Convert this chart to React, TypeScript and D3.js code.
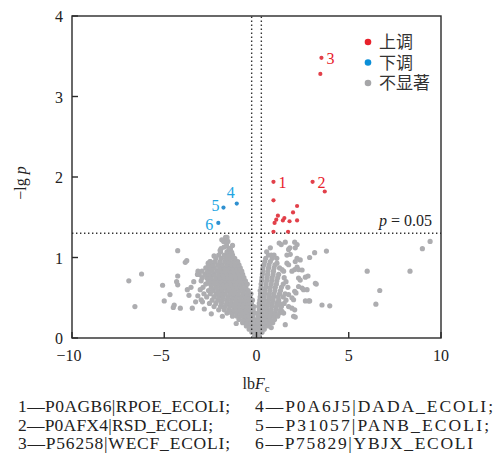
import React from "react";
import * as d3 from "d3";

type P = [number, number];

const xTicks = [-10, -5, 0, 5, 10];
const yTicks = [0, 1, 2, 3, 4];
const fcThreshold = 0.263;
const pThreshold = 1.301;

const upPoints: P[] = [
  [0.92, 1.94], [3.04, 1.94], [3.52, 3.48], [3.46, 3.28], [3.7, 1.82], [0.92, 1.71],
  [2.2, 1.64], [1.98, 1.56], [1.16, 1.52], [1.51, 1.49], [1.43, 1.46], [1.07, 1.47],
  [0.98, 1.43], [1.79, 1.45], [2.2, 1.46], [0.92, 1.32], [1.71, 1.32],
];
const downPoints: P[] = [[-1.07, 1.67], [-1.79, 1.62], [-2.07, 1.43]];

const upLabels: { id: string; x: number; y: number }[] = [
  { id: "1", x: 0.92, y: 1.94 },
  { id: "2", x: 3.04, y: 1.94 },
  { id: "3", x: 3.52, y: 3.48 },
];
const downLabels: { id: string; x: number; y: number; dx: number; dy: number }[] = [
  { id: "4", x: -1.07, y: 1.67, dx: -10, dy: -6 },
  { id: "5", x: -1.79, y: 1.62, dx: -12, dy: 3 },
  { id: "6", x: -2.07, y: 1.43, dx: -13, dy: 7 },
];

const leftRows: [number, number[]][] = [
  [0.03, [-0.1, 0.0]],
  [0.07, [-0.25, -0.1, 0.02]],
  [0.11, [-0.4, -0.22, -0.08]],
  [0.15, [-0.55, -0.35, -0.18, -0.05]],
  [0.19, [-0.75, -0.5, -0.3, -0.12]],
  [0.23, [-0.95, -0.7, -0.48, -0.28, -0.1]],
  [0.27, [-1.3, -1.05, -0.82, -0.6, -0.4, -0.2]],
  [0.31, [-1.6, -1.35, -1.1, -0.88, -0.66, -0.45, -0.25, -0.08]],
  [0.35, [-2.05, -1.75, -1.5, -1.25, -1.02, -0.8, -0.58, -0.38, -0.18]],
  [0.39, [-2.3, -1.95, -1.7, -1.45, -1.2, -0.98, -0.75, -0.52, -0.32, -0.14]],
  [0.43, [-2.55, -2.2, -1.9, -1.62, -1.38, -1.15, -0.92, -0.7, -0.48, -0.28]],
  [0.47, [-2.4, -2.1, -1.85, -1.6, -1.35, -1.1, -0.88, -0.65, -0.42, -0.22]],
  [0.51, [-2.7, -2.3, -2.05, -1.8, -1.55, -1.3, -1.08, -0.85, -0.6, -0.38]],
  [0.55, [-2.85, -2.5, -2.2, -1.95, -1.7, -1.45, -1.22, -1.0, -0.75, -0.5, -0.3]],
  [0.59, [-2.6, -2.35, -2.1, -1.85, -1.6, -1.38, -1.15, -0.92, -0.68, -0.45]],
  [0.63, [-2.9, -2.45, -2.2, -1.95, -1.72, -1.5, -1.28, -1.05, -0.82, -0.58]],
  [0.67, [-2.75, -2.5, -2.28, -2.05, -1.82, -1.6, -1.38, -1.15, -0.92, -0.7, -0.5]],
  [0.71, [-3.0, -2.62, -2.38, -2.15, -1.92, -1.7, -1.48, -1.25, -1.02, -0.8, -0.6]],
  [0.75, [-2.95, -2.7, -2.45, -2.2, -1.98, -1.76, -1.55, -1.32, -1.1, -0.88, -0.68]],
  [0.79, [-3.1, -2.8, -2.55, -2.3, -2.05, -1.82, -1.6, -1.38, -1.15, -0.95, -0.75]],
  [0.83, [-2.95, -2.65, -2.4, -2.15, -1.9, -1.68, -1.45, -1.22, -1.0, -0.8]],
  [0.87, [-2.75, -2.5, -2.28, -2.0, -1.75, -1.52, -1.3, -1.08, -0.88]],
  [0.91, [-2.6, -2.35, -2.1, -1.85, -1.6, -1.38, -1.15, -0.95]],
  [0.95, [-2.5, -2.25, -1.98, -1.72, -1.5, -1.25, -1.02]],
  [0.99, [-2.2, -1.9, -1.65, -1.42, -1.18]],
  [1.03, [-2.05, -1.75, -1.52, -1.3]],
  [1.07, [-1.95, -1.6, -1.38]],
  [1.11, [-1.92, -1.5, -1.42]],
  [1.15, [-1.62, -1.3]],
  [1.2, [-1.78, -1.55]],
  [1.25, [-1.68, -1.6]],
];

const rightRows: [number, number[]][] = [
  [0.03, [0.08, 0.15]],
  [0.07, [0.05, 0.2, 0.3]],
  [0.11, [0.08, 0.25, 0.42]],
  [0.15, [0.1, 0.28, 0.48, 0.65]],
  [0.19, [0.08, 0.25, 0.45, 0.68, 0.88]],
  [0.23, [0.12, 0.3, 0.52, 0.75, 0.98]],
  [0.27, [0.1, 0.3, 0.5, 0.72, 0.95, 1.15]],
  [0.31, [0.12, 0.32, 0.55, 0.78, 1.0, 1.25]],
  [0.35, [0.15, 0.35, 0.58, 0.8, 1.05, 1.3]],
  [0.39, [0.12, 0.35, 0.58, 0.82, 1.08, 1.35]],
  [0.43, [0.15, 0.38, 0.62, 0.85, 1.1, 1.5]],
  [0.47, [0.18, 0.4, 0.65, 0.9, 1.2, 1.6]],
  [0.51, [0.2, 0.42, 0.68, 0.92, 1.18, 1.45]],
  [0.55, [0.22, 0.45, 0.7, 0.95, 1.25, 1.55]],
  [0.59, [0.2, 0.45, 0.72, 1.0, 1.3]],
  [0.63, [0.25, 0.5, 0.75, 1.02, 1.35, 1.7]],
  [0.67, [0.25, 0.52, 0.8, 1.08, 1.45]],
  [0.71, [0.28, 0.55, 0.82, 1.1]],
  [0.75, [0.3, 0.58, 0.85, 1.15, 1.5]],
  [0.79, [0.32, 0.6, 0.9, 1.2]],
  [0.83, [0.35, 0.62, 0.92]],
  [0.87, [0.35, 0.65, 0.95, 1.25]],
  [0.91, [0.4, 0.68, 1.0]],
  [0.95, [0.45, 0.75]],
  [0.99, [0.5, 0.85, 1.1]],
  [1.03, [0.65, 0.8, 0.95]],
  [1.07, [0.55]],
  [1.12, [0.75]],
];

const grayScatter: P[] = [
  [1.23, 1.18], [1.56, 1.19], [1.34, 1.16], [2.07, 1.19], [2.2, 1.16], [2.1, 1.12],
  [1.74, 1.1], [1.81, 1.12], [3.15, 1.06], [3.79, 1.08], [1.65, 1.03], [1.83, 1.04],
  [1.11, 0.93], [1.65, 0.93], [1.74, 0.91], [2.1, 0.95], [2.2, 0.99], [1.38, 0.85],
  [1.47, 0.83], [1.92, 0.83], [2.07, 0.85], [2.2, 0.88], [2.28, 0.85], [2.28, 0.745],
  [2.37, 0.72], [2.65, 0.755], [2.79, 0.77], [3.19, 0.68], [2.47, 0.62], [2.55, 0.6],
  [2.28, 0.64], [2.07, 0.58], [2.14, 0.56], [1.74, 0.54], [1.92, 0.5], [2.01, 0.475],
  [2.65, 0.46], [2.83, 0.46], [3.55, 0.41], [3.97, 0.4], [1.74, 0.39], [1.92, 0.37],
  [2.07, 0.35], [2.01, 0.27], [2.1, 0.26], [1.38, 0.33], [1.47, 0.31], [1.56, 0.165],
  [2.47, 0.845], [2.37, 0.97], [2.88, 1.0], [3.24, 0.67], [2.74, 0.6], [2.88, 0.46],
  [9.41, 1.2], [8.99, 1.11], [6.0, 0.83], [8.32, 0.83], [6.68, 0.59], [6.47, 0.42],
  [-4.27, 1.085], [-3.86, 0.94], [-3.78, 0.96], [-6.23, 0.795], [-6.92, 0.71], [-6.59, 0.39],
  [-5.09, 0.655], [-5.0, 0.46], [-4.69, 0.54], [-4.51, 0.38], [-4.46, 0.41], [-4.27, 0.77],
  [-4.33, 0.7], [-4.27, 0.66], [-4.13, 0.37], [-3.75, 0.6], [-3.55, 0.63], [-3.66, 0.53],
  [-3.48, 0.37], [-3.18, 0.525], [-3.0, 0.475], [-2.93, 0.45], [-2.83, 0.36], [-3.17, 0.83],
  [-3.2, 0.79], [-3.4, 0.7], [-3.3, 0.45], [-1.88, 1.22], [-1.97, 1.09], [-1.76, 1.13],
  [-2.62, 0.93], [-2.52, 0.95], [-1.43, 1.1], [-1.34, 1.06], [-2.3, 1.02], [-3.05, 0.6],
  [-2.45, 0.3], [-1.85, 0.27], [-1.1, 0.18], [0.8, 0.13], [1.25, 0.43], [1.6, 0.7],
];

const legendItems = [
  { label: "上调", color: "#e8212b" },
  { label: "下调", color: "#0b8fd8" },
  { label: "不显著", color: "#a6a6a8" },
];

const notesLeft = ["1—P0AGB6|RPOE_ECOLI;", "2—P0AFX4|RSD_ECOLI;", "3—P56258|WECF_ECOLI;"];
const notesRight = ["4—P0A6J5|DADA_ECOLI;", "5—P31057|PANB_ECOLI;", "6—P75829|YBJX_ECOLI"];
const notesLeftWidth = [212, 195, 212];
const notesRightWidth = [238, 234, 218];

const W = 496;
const H = 464;
const serif = "'Liberation Serif', 'Times New Roman', serif";
const cjk = "'Noto Sans CJK SC', sans-serif";

export default function App() {
  const x = d3.scaleLinear().domain([-10, 10]).range([72, 441]);
  const y = d3.scaleLinear().domain([0, 4]).range([338, 16]);

  const grayPoints: P[] = [
    ...leftRows.flatMap(([yy, xs]) => xs.map((xx) => [xx, yy] as P)),
    ...rightRows.flatMap(([yy, xs]) => xs.map((xx) => [xx, yy] as P)),
    ...grayScatter,
  ];

  const [x0, x1] = x.range();
  const [yb, yt] = y.range();

  return (
    <svg width={W} height={H} style={{ position: "absolute", left: 0, top: 0, background: "#fff" }}>
      <rect x={0} y={0} width={W} height={H} fill="#fff" />
      <g fill="#adadb0">
        {grayPoints.map((d, i) => (
          <circle key={i} cx={x(d[0])} cy={y(d[1])} r={2.6} />
        ))}
      </g>
      <g stroke="#333" strokeWidth={1.4} strokeDasharray="1.4 2.6" fill="none">
        <line x1={x(-fcThreshold)} x2={x(-fcThreshold)} y1={yb} y2={yt} />
        <line x1={x(fcThreshold)} x2={x(fcThreshold)} y1={yb} y2={yt} />
        <line x1={x0} x2={x1} y1={y(pThreshold)} y2={y(pThreshold)} />
      </g>
      <g fill="#e2404a">
        {upPoints.map((d, i) => (
          <circle key={i} cx={x(d[0])} cy={y(d[1])} r={2.1} />
        ))}
      </g>
      <g fill="#2f90d0">
        {downPoints.map((d, i) => (
          <circle key={i} cx={x(d[0])} cy={y(d[1])} r={2.1} />
        ))}
      </g>
      <g fontFamily={serif} fontSize={16} fill="#e8202a">
        {upLabels.map((d) => (
          <text key={d.id} x={x(d.x) + 5} y={y(d.y) + 6}>
            {d.id}
          </text>
        ))}
      </g>
      <g fontFamily={serif} fontSize={16} fill="#22a4e2">
        {downLabels.map((d) => (
          <text key={d.id} x={x(d.x) + d.dx} y={y(d.y) + d.dy}>
            {d.id}
          </text>
        ))}
      </g>
      <text x={432} y={226} textAnchor="end" fontFamily={serif} fontSize={16} fill="#222">
        <tspan fontStyle="italic">p</tspan> = 0.05
      </text>
      <rect x={x0} y={yt} width={x1 - x0} height={yb - yt} fill="none" stroke="#2a2a2a" strokeWidth={1.4} />
      <g stroke="#2a2a2a" strokeWidth={1.4}>
        {xTicks.map((t) => (
          <line key={"x" + t} x1={x(t)} x2={x(t)} y1={yb} y2={yb - 6} />
        ))}
        {yTicks.map((t) => (
          <line key={"y" + t} x1={x0} x2={x0 + 6} y1={y(t)} y2={y(t)} />
        ))}
      </g>
      <g fontFamily={serif} fontSize={16} fill="#222">
        {xTicks.map((t) => (
          <text key={"xl" + t} x={x(t) + (t < 0 ? -3 : 0)} y={361} textAnchor="middle">
            {t < 0 ? "−" + Math.abs(t) : String(t)}
          </text>
        ))}
        {yTicks.map((t) => (
          <text key={"yl" + t} x={63} y={y(t) + 6} textAnchor="end">
            {t}
          </text>
        ))}
      </g>
      <text x={256} y={389} textAnchor="middle" fontFamily={serif} fontSize={16} fill="#222">
        lb<tspan fontStyle="italic">F</tspan>
        <tspan fontSize={11} dy={3}>c</tspan>
      </text>
      <text
        transform="translate(26,183) rotate(-90)"
        textAnchor="middle"
        fontFamily={serif}
        fontSize={16}
        fill="#222"
      >
        −lg <tspan fontStyle="italic">p</tspan>
      </text>
      <g>
        {legendItems.map((d, i) => (
          <g key={d.label} transform={`translate(368,${42 + i * 20.5})`}>
            <circle cx={0} cy={0} r={3.3} fill={d.color} />
            <text x={11} y={6} fontFamily={cjk} fontSize={17} fill="#333">
              {d.label}
            </text>
          </g>
        ))}
      </g>
      <g fontFamily={serif} fontSize={17.5} fill="#222">
        {notesLeft.map((s, i) => (
          <text key={s} x={18} y={412 + i * 18.7} textLength={notesLeftWidth[i]} lengthAdjust="spacing">
            {s}
          </text>
        ))}
        {notesRight.map((s, i) => (
          <text key={s} x={255} y={412 + i * 18.7} textLength={notesRightWidth[i]} lengthAdjust="spacing">
            {s}
          </text>
        ))}
      </g>
    </svg>
  );
}
